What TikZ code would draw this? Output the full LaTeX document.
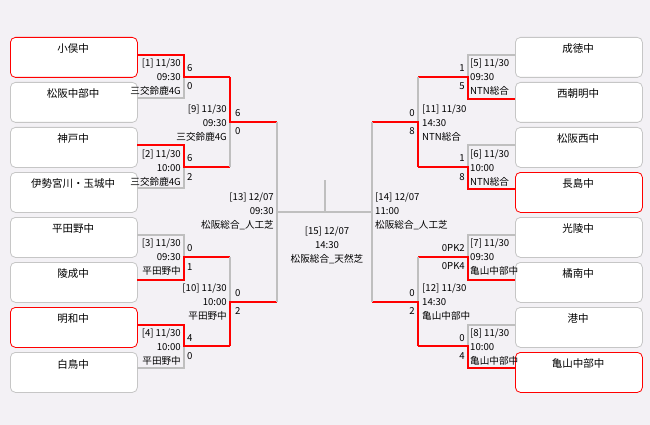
\documentclass[tikz,border=0pt]{standalone}
\usepackage{fontspec}
\setmainfont{Noto Sans CJK JP}
\begin{document}
\begin{tikzpicture}[x=1pt,y=-1pt,
  team/.style={draw=gray!45,fill=white,rounded corners=5pt,minimum width=127pt,minimum height=40pt,line width=0.8pt},
  win/.style={team,draw=red},
  tname/.style={font=\fontsize{10.5}{12}\selectfont,inner sep=0pt},
  lab/.style={font=\fontsize{9.6}{11}\selectfont,inner sep=0pt},
  rl/.style={draw=red,line width=2pt},
  gl/.style={draw=black!25,line width=2pt}]
\fill[fill={rgb,255:red,243;green,241;blue,245}] (0,0) rectangle (650,425);
\useasboundingbox (0,0) rectangle (650,425);
% boxes
\foreach \i/\n/\s in {0/小俣中/win,1/松阪中部中/team,2/神戸中/team,3/伊勢宮川・玉城中/team,4/平田野中/team,5/陵成中/team,6/明和中/win,7/白鳥中/team}{
  \node[\s,anchor=north west] (L\i) at (10,37+45*\i) {};
  \node[tname] (LT\i) at (73,49+45*\i) {\n};}
\foreach \i/\n/\s in {0/成徳中/team,1/西朝明中/team,2/松阪西中/team,3/長島中/win,4/光陵中/team,5/橘南中/team,6/港中/team,7/亀山中部中/win}{
  \node[\s,anchor=north west] (R\i) at (515,37+45*\i) {};
  \node[tname] (RT\i) at (578,49+45*\i) {\n};}
% left lines
\draw[gl] (137,98)--(184,98)--(184,77);
\draw[rl] (137,55)--(184,55)--(184,77)--(230,77);
\draw[gl] (137,188)--(184,188)--(184,167);
\draw[rl] (137,145)--(184,145)--(184,167)--(230,167);
\draw[gl] (137,235)--(184,235)--(184,257);
\draw[rl] (137,280)--(184,280)--(184,257)--(230,257);
\draw[gl] (137,368)--(184,368)--(184,346);
\draw[rl] (137,325)--(184,325)--(184,346)--(230,346);
\draw[gl] (230,122)--(230,167);
\draw[rl] (230,77)--(230,122)--(277,122);
\draw[gl] (230,257)--(230,302);
\draw[rl] (230,346)--(230,302)--(277,302);
\draw[gl] (277,122)--(277,302);
\draw[gl] (277,212)--(372,212);
\draw[gl] (325,180)--(325,212);
% right lines
\draw[gl] (515,55)--(468,55)--(468,77);
\draw[rl] (515,99)--(468,99)--(468,77)--(418,77);
\draw[gl] (515,145)--(468,145)--(468,167);
\draw[rl] (515,189)--(468,189)--(468,167)--(418,167);
\draw[gl] (515,235)--(468,235)--(468,257);
\draw[rl] (515,280)--(468,280)--(468,257)--(418,257);
\draw[gl] (515,325)--(468,325)--(468,346);
\draw[rl] (515,368)--(468,368)--(468,346)--(418,346);
\draw[gl] (418,77)--(418,122);
\draw[rl] (418,167)--(418,122)--(372,122);
\draw[gl] (418,257)--(418,302);
\draw[rl] (418,346)--(418,302)--(372,302);
\draw[gl] (372,122)--(372,302);
% left labels
\foreach \x/\y/\a/\b/\c in {181/64/{[1] 11/30}/09:30/三交鈴鹿4G,181/155/{[2] 11/30}/10:00/三交鈴鹿4G,181/244/{[3] 11/30}/09:30/平田野中,181/334/{[4] 11/30}/10:00/平田野中,227/110/{[9] 11/30}/09:30/三交鈴鹿4G,227/289/{[10] 11/30}/10:00/平田野中,274/198/{[13] 12/07}/09:30/松阪総合\_人工芝}{
  \node[lab,anchor=east] at (\x,\y) {\a};
  \node[lab,anchor=east] at (\x,\y+13) {\b};
  \node[lab,anchor=east] at (\x,\y+27) {\c};}
% right labels
\foreach \x/\y/\a/\b/\c in {470/64/{[5] 11/30}/09:30/NTN総合,470/155/{[6] 11/30}/10:00/NTN総合,470/244/{[7] 11/30}/09:30/亀山中部中,470/334/{[8] 11/30}/10:00/亀山中部中,422/110/{[11] 11/30}/14:30/NTN総合,422/289/{[12] 11/30}/14:30/亀山中部中,375/198/{[14] 12/07}/11:00/松阪総合\_人工芝}{
  \node[lab,anchor=west] at (\x,\y) {\a};
  \node[lab,anchor=west] at (\x,\y+13) {\b};
  \node[lab,anchor=west] at (\x,\y+27) {\c};}
% final
\node[lab] at (327,232) {[15] 12/07};
\node[lab] at (327,245) {14:30};
\node[lab] at (327,259) {松阪総合\_天然芝};
% scores left
\foreach \x/\y/\s in {187/68/6,187/86/0,187/158/6,187/177/2,187/248/0,187/267/1,187/338/4,187/356/0,235/113/6,235/131/0,235/293/0,235/311/2}{
  \node[lab,anchor=west] at (\x,\y) {\s};}
% scores right
\foreach \x/\y/\s in {465/68/1,465/86/5,465/158/1,465/177/8,465/248/0PK2,465/266/0PK4,465/338/0,465/356/4,415/113/0,415/131/8,415/293/0,415/311/2}{
  \node[lab,anchor=east] at (\x,\y) {\s};}
\end{tikzpicture}
\end{document}
